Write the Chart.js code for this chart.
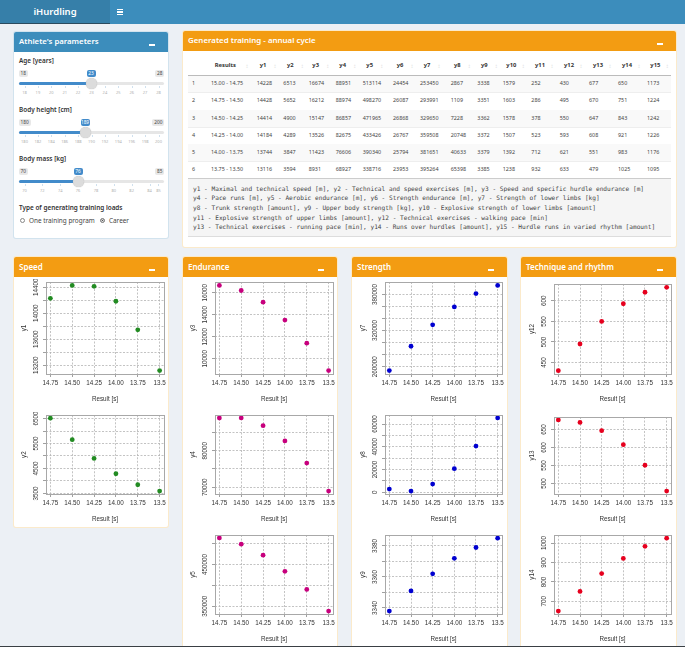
<!DOCTYPE html>
<html><head><meta charset="utf-8">
<script src="https://cdn.jsdelivr.net/npm/chart.js@4"></script>
<style>
html,body{margin:0;padding:0;width:685px;height:647px;overflow:hidden;background:#ecf0f5;font-family:"Noto Sans",sans-serif}
#page{position:relative;width:685px;height:647px;overflow:hidden}
.b{position:absolute}
.t{position:absolute;white-space:nowrap;line-height:1}
canvas{position:absolute}
</style></head><body><div id="page"></div>
<script>
const results=["15.00 - 14.75","14.75 - 14.50","14.50 - 14.25","14.25 - 14.00","14.00 - 13.75","13.75 - 13.50"];
const xValues=[14.75,14.5,14.25,14,13.75,13.5];
const xTickLabels=["14.75","14.50","14.25","14.00","13.75","13.5"];
const y1=[14228,14428,14414,14184,13744,13116];
const y2=[6513,5652,4900,4289,3847,3594];
const y3=[16674,16212,15147,13526,11423,8931];
const y4=[88951,88974,86857,82675,76606,68927];
const y5=[513114,498270,471965,433426,390340,338716];
const y6=[24454,26087,26868,26767,25794,23953];
const y7=[253450,293991,329650,359508,381651,395264];
const y8=[2867,1109,7228,20748,40633,65398];
const y9=[3338,3351,3362,3372,3379,3385];
const y10=[1579,1603,1578,1507,1392,1238];
const y11=[252,286,378,523,712,932];
const y12=[430,495,550,593,621,633];
const y13=[677,670,647,608,551,479];
const y14=[650,751,843,921,983,1025];
const y15=[1173,1224,1242,1226,1176,1095];
const columns=[y1,y2,y3,y4,y5,y6,y7,y8,y9,y10,y11,y12,y13,y14,y15];
const legendLines=[
"y1 - Maximal and technical speed [m], y2 - Technical and speed exercises [m], y3 - Speed and specific hurdle endurance [m]",
"y4 - Pace runs [m], y5 - Aerobic endurance [m], y6 - Strength endurance [m], y7 - Strength of lower limbs [kg]",
"y8 - Trunk strength [amount], y9 - Upper body strength [kg], y10 - Explosive strength of lower limbs [amount]",
"y11 - Explosive strength of upper limbs [amount], y12 - Technical exercises - walking pace [min]",
"y13 - Technical exercises - running pace [min], y14 - Runs over hurdles [amount], y15 - Hurdle runs in varied rhythm [amount]"];

const page=document.getElementById('page');
function box(x,y,w,h,css){const d=document.createElement('div');d.className='b';d.style.cssText+=`left:${x}px;top:${y}px;width:${w}px;height:${h}px;${css||''}`;page.appendChild(d);return d;}
function text(s,x,cy,size,css,anchor){const d=document.createElement('div');d.className='t';d.textContent=s;
 d.style.cssText+=`left:${x}px;top:${cy}px;font-size:${size}px;transform:translate(${anchor==='c'?'-50%':anchor==='r'?'-100%':'0'},-50%);${css||''}`;page.appendChild(d);return d;}

// top bar
box(0,0,110,23,'background:#367fa9;border-bottom:1px solid #2a4a5e');
box(110,0,575,24,'background:#3c8dbc');
text('iHurdling',55,12,9.5,'color:#fff;font-weight:600','c');
box(117,9,6,1.2,'background:#fff');box(117,11.4,6,1.2,'background:#fff');box(117,13.8,6,1.2,'background:#fff');

function panel(x,y,w,h,title,color,shadow,ts){
 box(x,y,w,h,`background:#fff;border-radius:2px;box-shadow:0 0 0 1px ${shadow}`);
 box(x,y,w,20,`background:${color};border-radius:2px 2px 0 0`);
 text(title,x+5,y+10,ts||8,'color:#fff;font-weight:600');
 box(x+w-19.5,y+12,6,1.5,'background:#fff');
}
panel(14,32,154,206,"Athlete's parameters",'#3c8dbc','#d2e3ee',7.8);
panel(183,31,493,216,"Generated training - annual cycle",'#f39c12','#fbeacb',7.9);
panel(14,257,154,270,"Speed",'#f39c12','#fbeacb');
panel(183,257,154,400,"Endurance",'#f39c12','#fbeacb');
panel(352,257,155,400,"Strength",'#f39c12','#fbeacb');
panel(521,257,155,400,"Technique and rhythm",'#f39c12','#fbeacb');
box(0,646,685,1,'background:#3a3f44');

// sliders
function slider(label,ly,minL,valL,maxL,hx,tickVals,tickPx){
 const lab='color:#333;font-weight:600';
 text(label,19,ly,6.4,lab);
 const by=ly+12;
 box(19,by-3.5,minL.length*3+3,7,'background:#e8e8e8;border-radius:2px');
 text(minL,20.5,by,4.8,'color:#444');
 box(hx-4.5,by-3.5,9,7,'background:#428bca;border-radius:2px');
 text(valL,hx,by,4.8,'color:#fff','c');
 box(164-maxL.length*3-3,by-3.5,maxL.length*3+3,7,'background:#e8e8e8;border-radius:2px');
 text(maxL,162.5,by,4.8,'color:#444','r');
 box(19,by+8.5,145,3.4,'background:#e6e6e6;border-radius:2px');
 box(19,by+8.5,hx-19,3.4,'background:#428bca;border-radius:2px');
 tickVals.forEach((v,i)=>{box(tickPx[i],by+12.5,.6,2.5,'background:#cfe0ee');text(v,tickPx[i],by+19.5,4,'color:#b0b0b0','c');});
 box(hx-5.5,by+4.5,11,11,'background:#dcdcdc;border-radius:50%;box-shadow:0 0 1px #aaa');
}
const ageT=["18","19","20","21","22","23","24","25","26","27","28"];
slider('Age [years]',61,'18','23','28',91,ageT,ageT.map((_,i)=>24.5+i*13.4));
const hT=["180","182","184","186","188","190","192","194","196","198","200"];
slider('Body height [cm]',110,'180','189','200',85,hT,hT.map((_,i)=>24.5+i*13.4));
const mT=[70,72,74,76,78,80,82,84,85];
slider('Body mass [kg]',159,'70','76','85',78,mT.map(String),mT.map(v=>24.5+(v-70)*8.93));
text('Type of generating training loads',19,207.5,6.4,'color:#333;font-weight:600');
box(19.5,217.5,3.4,3.4,'border:.6px solid #888;border-radius:50%;background:#fff');
text('One training program',29,220.5,6.4,'color:#444');
box(99.5,217.5,3.4,3.4,'border:.6px solid #888;border-radius:50%;background:#555;box-shadow:inset 0 0 0 .7px #fff');
text('Career',109,220.5,6.4,'color:#444');

// table
const headers=['y1','y2','y3','y4','y5','y6','y7','y8','y9','y10','y11','y12','y13','y14','y15'];
const headCx=[263,290.3,315.7,342.7,369.7,400,427,457.3,484.3,511.3,540,569,598,627,655.3];
const cellX=[256.7,283.3,308.7,335.7,362.7,393,420,450.7,477.3,502.7,531.3,559.7,589,618,647];
const rowY=[84,101.3,118.7,136,152.6,170];
text('Results',225.3,65.8,5.8,'color:#333;font-weight:700','c');
text('↕',247,65.8,6,'color:#ddd','c');
headers.forEach((h,i)=>{text(h,headCx[i],65.8,5.8,'color:#333;font-weight:700','c');text('↕',headCx[i]+12,65.8,6,'color:#ddd','c');});
box(188,75,483,.8,'background:#bbb');
rowY.forEach((ry,r)=>{
 if(r%2===0)box(188,ry-8.5,483,17,'background:#f9f9f9');
 box(188,ry+8.4,483,.5,'background:#eee');
 text(String(r+1),193.5,ry,5.4,'color:#444','c');
 text(results[r],211,ry,5.4,'color:#444');
 columns.forEach((c,i)=>text(String(c[r]),cellX[i],ry,5.4,'color:#444'));
});
box(188,178,483,59,'background:#f5f5f5;border-top:1px solid #ccc;border-bottom:1px solid #ddd;box-sizing:border-box');
legendLines.forEach((l,i)=>text(l,193,188.7+i*9.6,6.15,'color:#444;font-family:"DejaVu Sans Mono",monospace'));

// charts
const GREEN='#228b22',MAG='#c7007d',BLUE='#0000d0',RED='#e6001e';
const framePlugin={id:'frame',afterDatasetsDraw(c){const a=c.chartArea,g=c.ctx;g.save();g.strokeStyle='#a8a8a8';g.lineWidth=1;g.strokeRect(Math.round(a.left)+.5,Math.round(a.top)+.5,Math.round(a.width),Math.round(a.height));g.restore();}};
const meas=document.createElement('canvas').getContext('2d');
function plot(name,values,color,fx,fy,fw,fh,yMin,yMax,gridTicks,labelTicks){
 const L=35,R=6,T=3,B=33;
 const cv=document.createElement('canvas');
 cv.width=fw+L+R;cv.height=fh+T+B;
 cv.style.left=(fx-L)+'px';cv.style.top=(fy-T)+'px';page.appendChild(cv);
 const font={family:'"Liberation Sans",Arial,sans-serif',size:6.3};
 meas.font='6.3px "Liberation Sans"';
 const wid=Math.max(...labelTicks.map(v=>meas.measureText(String(v)).width));
 const TICK=3;
 const gridOpts={display:true,color:'#b4b4b4',lineWidth:.8,tickBorderDash:[],tickColor:'#777',tickLength:TICK,tickWidth:.7,drawTicks:true};
 const borderOpts={display:false,dash:[2,1.5]};
 new Chart(cv,{type:'scatter',plugins:[framePlugin],
  data:{datasets:[{label:name,data:xValues.map((x,i)=>({x:x,y:values[i]})),backgroundColor:color,borderColor:color,pointRadius:2.4,pointHoverRadius:2.4,borderWidth:0}]},
  options:{responsive:false,animation:false,devicePixelRatio:1,
   layout:{autoPadding:false,padding:{left:0,right:R,top:T,bottom:0}},
   plugins:{legend:{display:false},tooltip:{enabled:false}},
   scales:{
    x:{type:'linear',reverse:true,min:13.45,max:14.8,
     afterBuildTicks(s){s.ticks=xValues.map(v=>({value:v}));},
     afterFit(s){s.height=B;},
     grid:gridOpts,border:borderOpts,
     ticks:{autoSkip:false,maxRotation:0,font:font,color:'#333',padding:2.2,callback:v=>xTickLabels[xValues.indexOf(v)]},
     title:{display:true,text:'Result [s]',font:font,color:'#333',padding:{top:0,bottom:4.2}}},
    y:{type:'linear',min:yMin,max:yMax,
     afterBuildTicks(s){s.ticks=gridTicks.map(v=>({value:v}));},
     afterFit(s){s.width=L;},
     grid:gridOpts,border:borderOpts,
     ticks:{autoSkip:false,minRotation:90,maxRotation:90,crossAlign:'center',font:font,color:'#333',
      padding:9.5-TICK-wid/2,callback:v=>labelTicks.includes(v)?String(v):''},
     title:{display:true,text:name,font:font,color:'#333',padding:{top:9,bottom:0}}}
   }}});
}
const col1=46,col2=215,col3=385,col4=554;
const W=[118,118,117,117];
const rowA=[282,92],rowB=[415,79],rowC=[535,79];
plot('y1',y1,GREEN,col1,rowA[0],W[0],rowA[1],13064,14480,[13200,13400,13600,13800,14000,14200,14400],[13200,13600,14000,14400]);
plot('y2',y2,GREEN,col1,rowB[0],W[0],rowB[1],3477,6630,[3500,4000,4500,5000,5500,6000,6500],[3500,4500,5500,6500]);
plot('y3',y3,MAG,col2,rowA[0],W[1],rowA[1],8621,16984,[10000,12000,14000,16000],[10000,12000,14000,16000]);
plot('y4',y4,MAG,col2,rowB[0],W[1],rowB[1],68125,89776,[70000,75000,80000,85000],[70000,80000]);
plot('y5',y5,MAG,col2,rowC[0],W[1],rowC[1],331700,520130,[350000,400000,450000,500000],[350000,450000]);
plot('y7',y7,BLUE,col3,rowA[0],W[2],rowA[1],247780,400930,[260000,280000,300000,320000,340000,360000,380000],[260000,320000,380000]);
plot('y8',y8,BLUE,col3,rowB[0],W[2],rowB[1],-1500,68000,[0,10000,20000,30000,40000,50000,60000],[0,20000,40000,60000]);
plot('y9',y9,BLUE,col3,rowC[0],W[2],rowC[1],3336.1,3386.9,[3340,3350,3360,3370,3380],[3340,3360,3380]);
plot('y12',y12,RED,col4,rowA[0],W[3],rowA[1],422,641,[450,500,550,600],[450,500,550,600]);
plot('y13',y13,RED,col4,rowB[0],W[3],rowB[1],471,685,[500,550,600,650],[500,550,600,650]);
plot('y14',y14,RED,col4,rowC[0],W[3],rowC[1],635,1040,[700,800,900,1000],[700,800,900,1000]);
</script></body></html>
